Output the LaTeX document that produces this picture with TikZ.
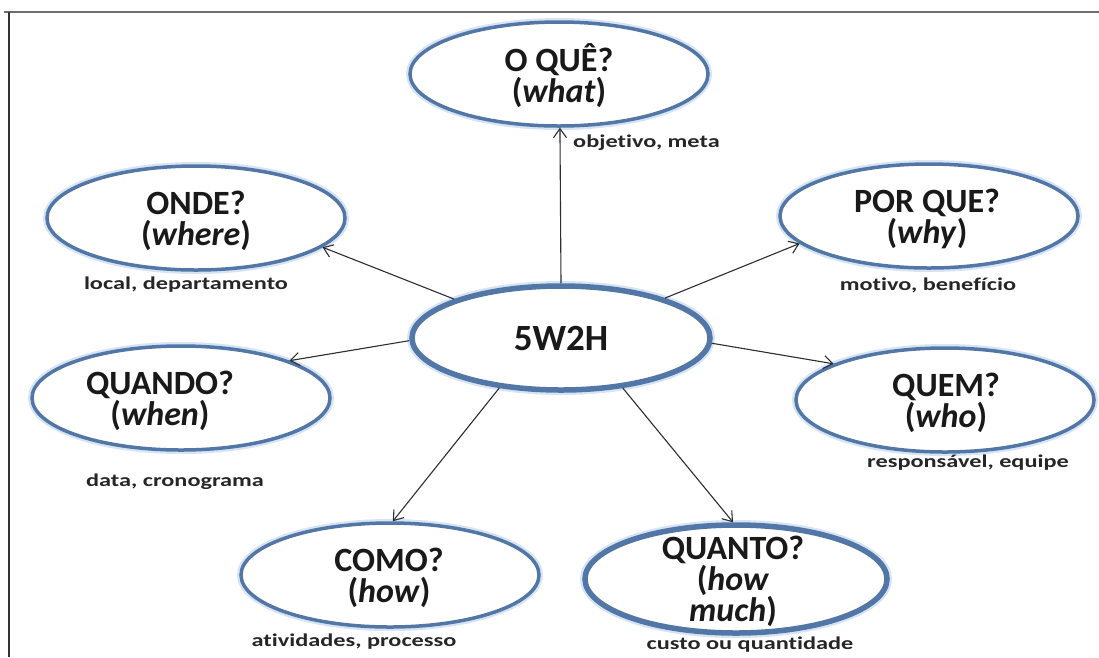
\documentclass[tikz,border=0pt]{standalone}
\usepackage{fontspec}
\setmainfont{Carlito}[Ligatures={NoCommon}]
\newfontfamily\notefont[FakeStretch=1.35,Ligatures={NoCommon}]{Carlito}
\usetikzlibrary{arrows.meta,shapes.geometric}
\definecolor{bubblue}{RGB}{82,118,166}
\definecolor{bubhalo}{RGB}{214,228,244}
\definecolor{framegray}{RGB}{110,110,110}
\definecolor{arrowgray}{RGB}{45,45,50}
\tikzset{
  bub/.style={ellipse, draw=bubblue, line width=3.5pt, fill=white,
    minimum width=298pt, minimum height=104pt, inner sep=0pt,
    preaction={draw=bubhalo, line width=8pt}},
  bubthick/.style={bub, line width=5.5pt,
    preaction={draw=bubhalo, line width=10pt}},
  ttl/.style={font=\bfseries\fontsize{34}{31}\selectfont, align=center,
    inner sep=0pt, text=black!90},
  hub/.style={font=\bfseries\fontsize{37}{40}\selectfont, inner sep=0pt, text=black!90},
  note/.style={font=\notefont\bfseries\fontsize{18}{20}\selectfont, inner sep=0pt, text=black!85},
  arr/.style={draw=arrowgray, line width=1.1pt,
    -{Straight Barb[length=9pt,width=13pt,line width=1.1pt]}}
}
\begin{document}
\begin{tikzpicture}[x=1pt,y=-1pt]
\useasboundingbox (0,0) rectangle (1099,657);
% frame lines
\draw[framegray, line width=2pt] (4,12) -- (1099,12);
\draw[black!80, line width=1.2pt] (9,12) -- (9,657);

% bubbles
\node[bubthick] (hub) at (561,338) {};
\node[bub] (what)  at (559,74)  {};
\node[bub] (where) at (196,218) {};
\node[bub] (why)   at (929,216) {};
\node[bub] (when)  at (181,398) {};
\node[bub] (who)   at (945,400) {};
\node[bub] (how)   at (390,575) {};
\node[bubthick, minimum width=302pt, minimum height=108pt] (much) at (736,579) {};

% titles
\node[hub] (hubt) at (hub) {5W2H};
\node[ttl] (whatt)  at (559,76)  {O QUÊ?\\(\textit{what})};
\node[ttl] (wheret) at (196,221) {ONDE?\\(\textit{where})};
\node[ttl] (whyt)   at (927,219) {POR QUE?\\(\textit{why})};
\node[ttl] (whent)  at (160,401) {QUANDO?\\(\textit{when})};
\node[ttl] (whot)   at (946,403) {QUEM?\\(\textit{who})};
\node[ttl] (howt)   at (389,578) {COMO?\\(\textit{how})};
\node[ttl] (mucht)  at (733,581) {QUANTO?\\(\textit{how}\\\textit{much})};

% connectors
\draw[arr] (hub.90)    -- (what.-89);
\draw[arr] (hub.160)   -- (where.-13);
\draw[arr] (hub.21)    -- (why.-168);
\draw[arr] (hub.181)   -- (when.19);
\draw[arr] (hub.-2)    -- (who.162);
\draw[arr] (hub.219.5) -- (how.87);
\draw[arr] (hub.-39)   -- (much.93);

% notes
\node[note, anchor=west] (whatn) at (573,143) {objetivo, meta};
\node[note] (wheren) at (186,285) {local, departamento};
\node[note] (whyn)   at (928,285) {motivo, benefício};
\node[note] (whenn)  at (175,482) {data, cronograma};
\node[note] (whon)   at (968,463) {responsável, equipe};
\node[note] (hown)   at (354,642) {atividades, processo};
\node[note] (muchn)  at (750,645) {custo ou quantidade};
\end{tikzpicture}
\end{document}
